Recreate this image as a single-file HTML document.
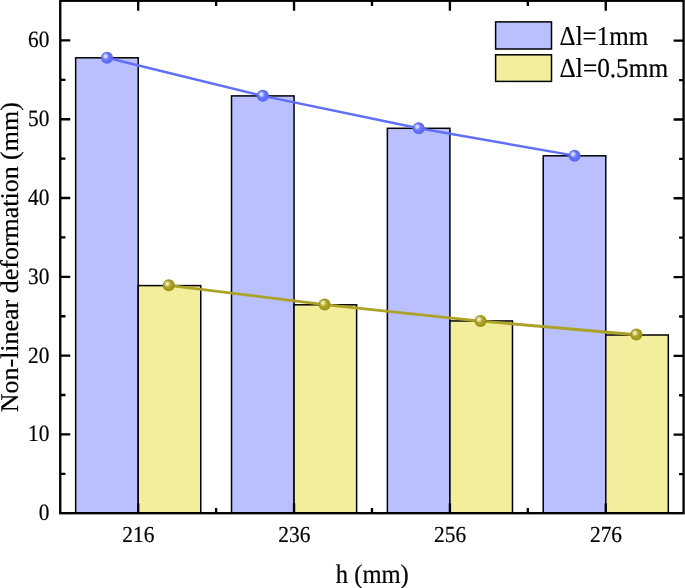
<!DOCTYPE html>
<html><head><meta charset="utf-8"><title>chart</title>
<style>html,body{margin:0;padding:0;background:#fff}svg{display:block}text{font-family:"Liberation Serif","Times New Roman",serif;fill:#000;stroke:#000;stroke-width:0.2px;text-rendering:geometricPrecision}</style></head><body>
<svg width="685" height="588" viewBox="0 0 685 588">
<defs>
<radialGradient id="gb" cx="0.5" cy="0.5" r="0.5" fx="0.36" fy="0.36"><stop offset="0" stop-color="#8e9aff"/><stop offset="0.55" stop-color="#6676f8"/><stop offset="1" stop-color="#5565ee"/></radialGradient>
<radialGradient id="gy" cx="0.5" cy="0.5" r="0.5" fx="0.36" fy="0.36"><stop offset="0" stop-color="#c9c04c"/><stop offset="0.55" stop-color="#aea424"/><stop offset="1" stop-color="#968c16"/></radialGradient>
<radialGradient id="hl" cx="0.5" cy="0.5" r="0.5"><stop offset="0" stop-color="#fff" stop-opacity="0.9"/><stop offset="0.35" stop-color="#fff" stop-opacity="0.6"/><stop offset="1" stop-color="#fff" stop-opacity="0"/></radialGradient>
</defs>
<rect width="685" height="588" fill="#fff"/>
<rect x="75.65" y="57.80" width="62.55" height="455.40" fill="#b9c0fd" stroke="#000" stroke-width="1.5"/>
<rect x="231.51" y="95.90" width="62.55" height="417.30" fill="#b9c0fd" stroke="#000" stroke-width="1.5"/>
<rect x="387.37" y="128.30" width="62.55" height="384.90" fill="#b9c0fd" stroke="#000" stroke-width="1.5"/>
<rect x="543.23" y="155.80" width="62.55" height="357.40" fill="#b9c0fd" stroke="#000" stroke-width="1.5"/>
<rect x="138.20" y="285.60" width="62.55" height="227.60" fill="#f2ee9b" stroke="#000" stroke-width="1.5"/>
<rect x="294.06" y="304.80" width="62.55" height="208.40" fill="#f2ee9b" stroke="#000" stroke-width="1.5"/>
<rect x="449.92" y="320.95" width="62.55" height="192.25" fill="#f2ee9b" stroke="#000" stroke-width="1.5"/>
<rect x="605.78" y="335.00" width="62.55" height="178.20" fill="#f2ee9b" stroke="#000" stroke-width="1.5"/>
<rect x="60.25" y="0.75" width="623.35" height="512.45" fill="none" stroke="#000" stroke-width="2.35"/>
<path d="M60.25 473.80h5.2M683.6 474.05h-4.5M60.25 434.40h10M683.6 434.65h-10M60.25 395.00h5.2M683.6 395.25h-4.5M60.25 355.60h10M683.6 355.85h-10M60.25 316.20h5.2M683.6 316.45h-4.5M60.25 276.80h10M683.6 277.05h-10M60.25 237.40h5.2M683.6 237.65h-4.5M60.25 198.00h10M683.6 198.25h-10M60.25 158.60h5.2M683.6 158.85h-4.5M60.25 119.20h10M683.6 119.45h-10M60.25 79.80h5.2M683.6 80.05h-4.5M60.25 40.40h10M683.6 40.65h-10M138.18 513.2v-10M138.18 0.75v10M216.11 513.2v-5.2M216.11 0.75v5.2M294.04 513.2v-10M294.04 0.75v10M371.97 513.2v-5.2M371.97 0.75v5.2M449.90 513.2v-10M449.90 0.75v10M527.83 513.2v-5.2M527.83 0.75v5.2M605.76 513.2v-10M605.76 0.75v10" stroke="#000" stroke-width="2.35" fill="none"/>
<polyline points="107.00,57.75 262.86,95.85 418.72,128.25 574.58,155.65" fill="none" stroke="#6070f6" stroke-width="2.4"/>
<polyline points="168.80,285.30 324.56,304.45 480.52,320.95 636.38,334.60" fill="none" stroke="#aca228" stroke-width="2.8" transform="translate(0,0.15)"/>
<circle cx="107.00" cy="57.75" r="6" fill="url(#gb)"/><circle cx="105.40" cy="56.15" r="3.4" fill="url(#hl)"/>
<circle cx="262.86" cy="95.85" r="6" fill="url(#gb)"/><circle cx="261.26" cy="94.25" r="3.4" fill="url(#hl)"/>
<circle cx="418.72" cy="128.25" r="6" fill="url(#gb)"/><circle cx="417.12" cy="126.65" r="3.4" fill="url(#hl)"/>
<circle cx="574.58" cy="155.65" r="6" fill="url(#gb)"/><circle cx="572.98" cy="154.05" r="3.4" fill="url(#hl)"/>
<circle cx="168.80" cy="285.30" r="6" fill="url(#gy)"/><circle cx="167.20" cy="283.70" r="3.4" fill="url(#hl)"/>
<circle cx="324.56" cy="304.45" r="6" fill="url(#gy)"/><circle cx="322.96" cy="302.85" r="3.4" fill="url(#hl)"/>
<circle cx="480.52" cy="320.95" r="6" fill="url(#gy)"/><circle cx="478.92" cy="319.35" r="3.4" fill="url(#hl)"/>
<circle cx="636.38" cy="334.60" r="6" fill="url(#gy)"/><circle cx="634.78" cy="333.00" r="3.4" fill="url(#hl)"/>
<text transform="translate(49.4,520.2) scale(0.912,1)" font-size="23.4" text-anchor="end">0</text>
<text transform="translate(49.4,441.4) scale(0.912,1)" font-size="23.4" text-anchor="end">10</text>
<text transform="translate(49.4,362.6) scale(0.912,1)" font-size="23.4" text-anchor="end">20</text>
<text transform="translate(49.4,283.8) scale(0.912,1)" font-size="23.4" text-anchor="end">30</text>
<text transform="translate(49.4,205.0) scale(0.912,1)" font-size="23.4" text-anchor="end">40</text>
<text transform="translate(49.4,126.2) scale(0.912,1)" font-size="23.4" text-anchor="end">50</text>
<text transform="translate(49.4,47.4) scale(0.912,1)" font-size="23.4" text-anchor="end">60</text>
<text transform="translate(138.4,542.2) scale(0.93,1)" font-size="23" text-anchor="middle">216</text>
<text transform="translate(294.3,542.2) scale(0.93,1)" font-size="23" text-anchor="middle">236</text>
<text transform="translate(450.1,542.2) scale(0.93,1)" font-size="23" text-anchor="middle">256</text>
<text transform="translate(606.0,542.2) scale(0.93,1)" font-size="23" text-anchor="middle">276</text>
<text x="335.8" y="582.8" font-size="26.8" textLength="73" lengthAdjust="spacingAndGlyphs">h (mm)</text>
<text transform="translate(18.4,412.2) rotate(-90)" font-size="25.5" textLength="310" lengthAdjust="spacingAndGlyphs">Non-linear deformation (mm)</text>
<rect x="495.6" y="21.9" width="55.9" height="27.1" fill="#b9c0fd" stroke="#000" stroke-width="1.5"/>
<rect x="495.6" y="54.8" width="55.9" height="26.6" fill="#f2ee9b" stroke="#000" stroke-width="1.5"/>
<text x="559.6" y="44.6" font-size="27.3" textLength="88.5" lengthAdjust="spacingAndGlyphs">Δl=1mm</text>
<text x="559.6" y="77.2" font-size="27.3" textLength="108.5" lengthAdjust="spacingAndGlyphs">Δl=0.5mm</text>
</svg></body></html>
